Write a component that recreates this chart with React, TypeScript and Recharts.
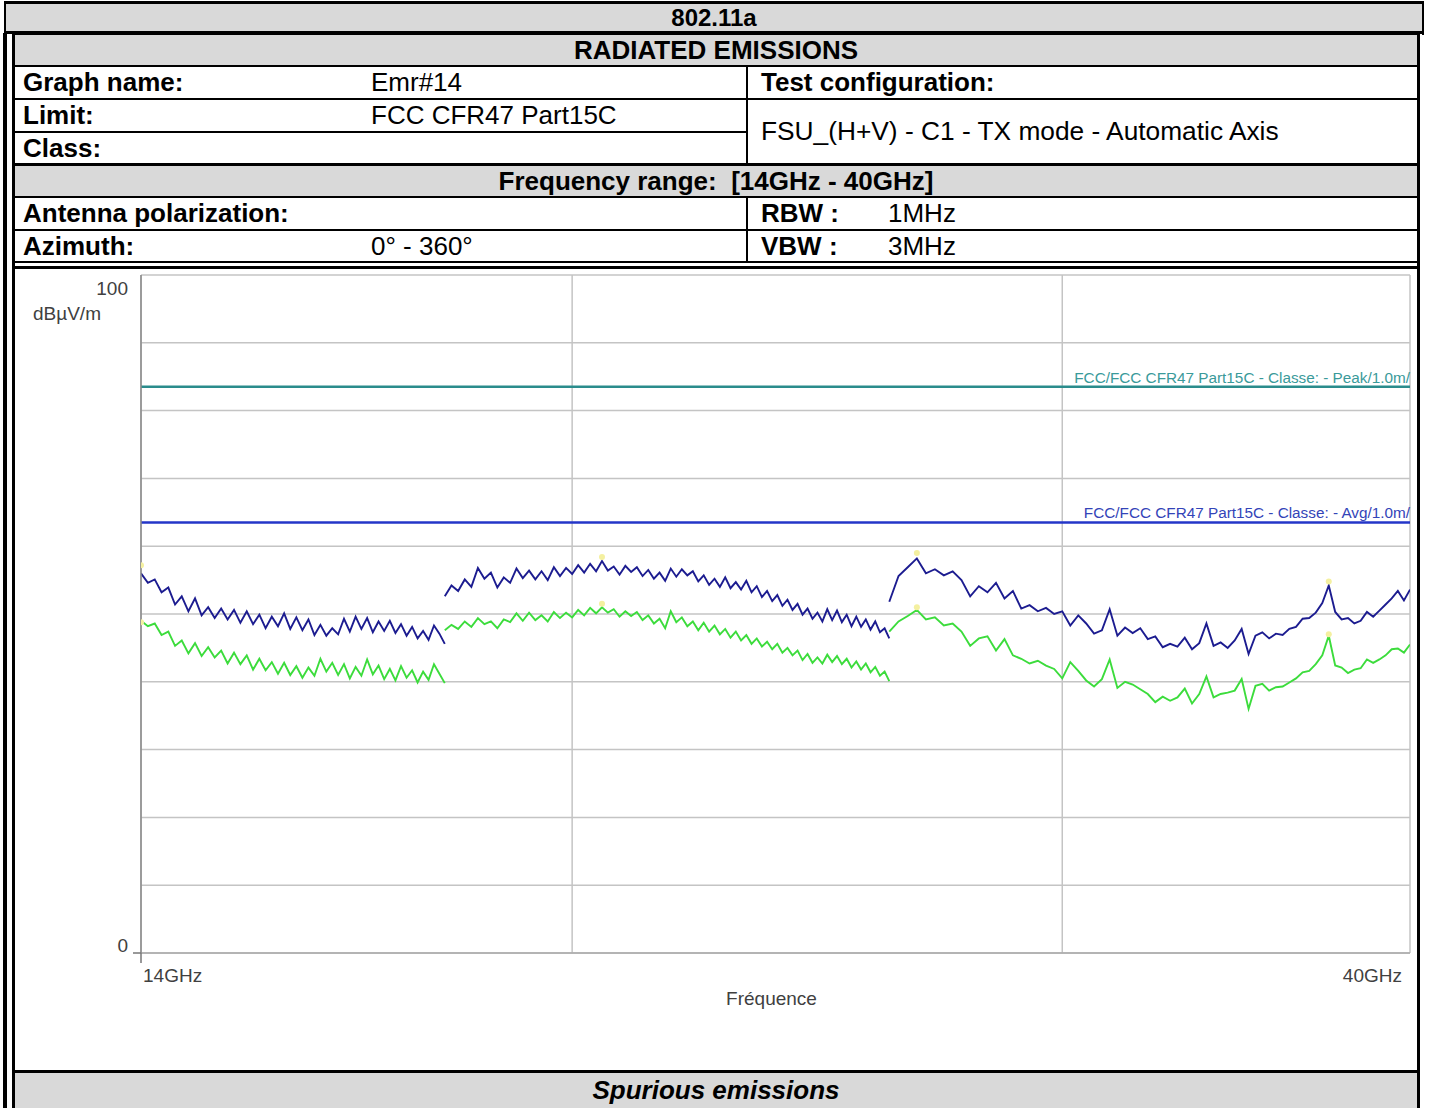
import React from 'react';
import { LineChart, Line, XAxis, YAxis, CartesianGrid, ReferenceLine, Label } from 'recharts';

const FONT = '"Liberation Sans", Arial, Helvetica, sans-serif';

// analyzer sweep per sub-band (GHz)
const band1Sweep = { start: 14, step: 0.08 };
const band2Sweep = { start: 18, step: 0.1 };
const band3Sweep = { start: 26, step: 0.2 };

// peak trace (dBµV/m)
const peak1 = [
  56.0, 54.6, 55.1, 53.2, 53.9, 51.4, 52.6, 50.4, 52.3, 49.8, 51.0, 49.4, 50.8, 49.2, 50.6, 48.7, 50.4,
  48.5, 49.9, 47.9, 49.6, 48.2, 50.1, 47.8, 49.5, 47.6, 49.2, 46.9, 48.4, 46.8, 47.9, 47.0, 49.3, 47.4,
  49.6, 47.8, 49.4, 47.3, 48.9, 47.5, 49.0, 47.2, 48.5, 46.8, 48.1, 46.4, 47.5, 46.2, 48.3, 47.1, 45.6,
];
const peak2 = [
  52.6, 54.2, 53.4, 55.1, 54.0, 56.8, 55.2, 56.1, 53.9, 55.4, 54.6, 56.7, 55.3, 56.4, 55.1, 56.3, 55.0,
  56.9, 55.6, 56.8, 55.9, 57.2, 56.1, 57.4, 56.3, 57.8, 56.4, 57.0, 55.8, 57.1, 56.2, 56.9, 55.6, 56.5,
  55.2, 56.1, 54.9, 56.7, 55.5, 56.6, 55.7, 56.3, 54.8, 55.7, 54.3, 55.2, 54.0, 55.4, 53.8, 54.7, 53.6,
  54.9, 53.2, 54.1, 52.5, 53.4, 51.9, 52.8, 51.2, 52.1, 50.6, 51.5, 49.9, 50.8, 49.3, 50.2, 48.9, 50.7,
  49.1, 50.5, 48.8, 49.9, 48.2, 49.6, 48.1, 49.2, 47.7, 48.9, 47.3, 47.9, 46.4,
];
const peak3 = [
  51.8, 55.6, 56.9, 58.2, 56.0, 56.6, 55.7, 56.3, 55.0, 52.6, 54.1, 53.2, 54.6, 52.3, 53.4, 50.8, 51.3,
  50.4, 50.9, 50.0, 50.4, 48.3, 49.8, 48.6, 47.1, 47.6, 50.7, 46.8, 48.0, 47.2, 47.9, 46.3, 46.7, 45.1,
  45.6, 45.2, 46.5, 44.8, 45.7, 48.6, 45.3, 45.8, 45.0, 46.1, 47.8, 44.1, 46.8, 47.3, 46.4, 47.1, 46.9,
  47.8, 48.1, 49.3, 49.4, 50.2, 51.6, 54.2, 50.3, 49.2, 49.4, 48.6, 49.0, 50.3, 49.6, 50.5, 51.4, 52.3,
  53.4, 52.0, 53.6,
];

// average trace (dBµV/m)
const avg1 = [
  49.0, 48.2, 48.6, 46.9, 47.4, 45.3, 46.1, 44.2, 45.7, 43.8, 45.1, 43.6, 44.6, 42.7, 44.3, 42.6, 43.9,
  41.8, 43.4, 41.7, 42.9, 41.2, 42.8, 41.0, 42.3, 40.6, 42.1, 40.9, 43.4, 41.5, 42.8, 41.0, 42.6, 40.5,
  42.2, 40.9, 43.3, 41.1, 42.4, 40.4, 41.9, 40.2, 42.3, 40.6, 41.7, 39.9, 41.5, 40.3, 42.6, 41.2, 39.8,
];
const avg2 = [
  47.6, 48.4, 47.8, 48.9, 48.1, 49.4, 48.5, 48.9, 47.9, 49.2, 48.8, 50.1, 49.0, 50.2, 49.1, 49.8, 48.9,
  50.3, 49.4, 50.2, 49.5, 50.6, 49.8, 50.9, 50.1, 51.0, 50.2, 50.7, 49.6, 50.4, 49.7, 50.3, 49.1, 49.8,
  48.6, 49.3, 47.9, 50.4, 48.8, 49.5, 48.2, 48.9, 47.6, 48.7, 47.4, 48.3, 47.0, 47.8, 46.5, 47.4, 46.1,
  46.9, 45.6, 46.4, 45.2, 45.9, 44.8, 45.6, 44.3, 45.0, 43.9, 44.6, 43.2, 44.1, 42.8, 43.6, 42.7, 44.0,
  42.9, 43.8, 42.6, 43.4, 42.1, 43.0, 41.8, 42.7, 41.4, 42.2, 40.9, 41.5, 40.1,
];
const avg3 = [
  47.4, 48.9, 49.7, 50.6, 49.2, 49.5, 48.3, 48.6, 47.4, 45.3, 46.4, 46.7, 44.6, 46.3, 43.9, 43.4, 42.7,
  43.1, 42.4, 41.9, 40.5, 42.9, 41.6, 40.2, 39.3, 40.4, 43.3, 39.1, 40.0, 39.6, 38.9, 38.2, 37.0, 37.8,
  37.2, 37.7, 39.0, 36.8, 38.2, 40.8, 37.7, 38.2, 38.4, 38.7, 40.4, 36.0, 39.4, 39.7, 38.7, 39.2, 39.3,
  39.9, 40.5, 41.4, 41.6, 42.6, 43.9, 46.8, 42.4, 42.1, 41.3, 41.8, 42.0, 43.3, 42.8, 43.3, 43.9, 44.8,
  44.9, 44.3, 45.5,
];

// final measurement markers
const markerFreqs = [14.0, 20.5, 26.6, 37.4];
const peakMarkers = [57.2, 58.4, 59.0, 54.8];
const avgMarkers = [48.8, 51.5, 51.0, 47.0];

const limitPeak = 83.5;
const limitAvg = 63.5;
const yTicks = [0, 10, 20, 30, 40, 50, 60, 70, 80, 90, 100];
const xTicks = [14, 20, 30, 40];

const BLUE = '#1c1c90';
const GREEN = '#3cdc3c';

const toPoints = (sweep: { start: number; step: number }, values: number[]) =>
  values.map((v, i) => ({ f: +(sweep.start + i * sweep.step).toFixed(2), v }));

const markerPoints = (values: number[]) => values.map((v, i) => ({ f: markerFreqs[i], v }));

const bands = [
  { key: 'p1', data: toPoints(band1Sweep, peak1), color: BLUE },
  { key: 'p2', data: toPoints(band2Sweep, peak2), color: BLUE },
  { key: 'p3', data: toPoints(band3Sweep, peak3), color: BLUE },
  { key: 'a1', data: toPoints(band1Sweep, avg1), color: GREEN },
  { key: 'a2', data: toPoints(band2Sweep, avg2), color: GREEN },
  { key: 'a3', data: toPoints(band3Sweep, avg3), color: GREEN },
];

const YTick = (props: any) => {
  const { x, y, payload } = props;
  if (payload.value === 100) {
    return (
      <g>
        <text x={x - 13} y={y + 16} textAnchor="end" fontSize={19} fill="#404040">100</text>
        <text x={x - 108} y={y + 41} textAnchor="start" fontSize={19} fill="#404040">dBµV/m</text>
      </g>
    );
  }
  if (payload.value === 0) {
    return (
      <g>
        <line x1={x - 8} x2={x} y1={y} y2={y} stroke="#777" strokeWidth={1.5} />
        <text x={x - 13} y={y - 1} textAnchor="end" fontSize={19} fill="#404040">0</text>
      </g>
    );
  }
  return null;
};

const XTick = (props: any) => {
  const { x, y, payload } = props;
  if (payload.value === 14) {
    return (
      <g>
        <line x1={x} x2={x} y1={y} y2={y + 10} stroke="#777" strokeWidth={1.5} />
        <text x={x + 2} y={y + 29} textAnchor="start" fontSize={19} fill="#404040">14GHz</text>
      </g>
    );
  }
  if (payload.value === 40) {
    return <text x={x - 6} y={y + 29} textAnchor="end" fontSize={19} fill="#404040">40GHz</text>;
  }
  return null;
};

const limitLabel = (text: string, color: string) => (props: any) => {
  const vb = props.viewBox;
  return (
    <text x={vb.x + vb.width} y={vb.y - 4} textAnchor="end" fontSize={15.3} fill={color}>
      {text}
    </text>
  );
};

const Chart = () => (
  <LineChart
    width={1400}
    height={800}
    margin={{ top: 5, right: 6, bottom: 57, left: 65 }}
    style={{ fontFamily: FONT }}
  >
    <CartesianGrid stroke="#c4c4c4" strokeWidth={1.5} />
    <XAxis
      dataKey="f"
      type="number"
      scale="log"
      domain={[14, 40]}
      ticks={xTicks}
      allowDataOverflow
      height={60}
      tickSize={0}
      tickMargin={0}
      tickLine={false}
      axisLine={{ stroke: '#aaa', strokeWidth: 1.5 }}
      tick={<XTick />}
    >
      <Label value="Fréquence" position="insideBottom" offset={8} dx={-4} fontSize={19} fill="#404040" />
    </XAxis>
    <YAxis
      type="number"
      domain={[0, 100]}
      ticks={yTicks}
      width={60}
      tickSize={0}
      tickMargin={0}
      tickLine={false}
      axisLine={{ stroke: '#888', strokeWidth: 1.5 }}
      tick={<YTick />}
    />
    <ReferenceLine
      y={limitPeak}
      stroke="#2a8c8c"
      strokeWidth={2.5}
      label={limitLabel('FCC/FCC CFR47 Part15C - Classe: - Peak/1.0m/', '#3a9a9a')}
    />
    <ReferenceLine
      y={limitAvg}
      stroke="#2436c8"
      strokeWidth={2.5}
      label={limitLabel('FCC/FCC CFR47 Part15C - Classe: - Avg/1.0m/', '#3344b8')}
    />
    {bands.map((b) => (
      <Line
        key={b.key}
        data={b.data}
        dataKey="v"
        type="linear"
        stroke={b.color}
        strokeWidth={1.9}
        dot={false}
        isAnimationActive={false}
      />
    ))}
    <Line
      data={markerPoints(peakMarkers)}
      dataKey="v"
      stroke="none"
      dot={{ r: 3, fill: '#f4f0a0', stroke: 'none' }}
      isAnimationActive={false}
    />
    <Line
      data={markerPoints(avgMarkers)}
      dataKey="v"
      stroke="none"
      dot={{ r: 3, fill: '#f4f0a0', stroke: 'none' }}
      isAnimationActive={false}
    />
  </LineChart>
);

const H = ({ x, y, w, t = 2 }: any) => (
  <div style={{ position: 'absolute', left: x, top: y, width: w, height: t, background: '#000' }} />
);
const V = ({ x, y, h, t = 2 }: any) => (
  <div style={{ position: 'absolute', left: x, top: y, width: t, height: h, background: '#000' }} />
);
const Fill = ({ x, y, w, h }: any) => (
  <div style={{ position: 'absolute', left: x, top: y, width: w, height: h, background: '#d9d9d9' }} />
);
const T = ({ x, y, h, w, bold, italic, center, size = 26, children }: any) => (
  <div
    style={{
      position: 'absolute',
      left: x,
      top: y,
      width: w,
      height: h,
      lineHeight: `${h}px`,
      fontSize: size,
      fontWeight: bold ? 700 : 400,
      fontStyle: italic ? 'italic' : 'normal',
      textAlign: center ? 'center' : 'left',
      whiteSpace: 'pre',
      color: '#000',
    }}
  >
    {children}
  </div>
);

export default function App() {
  return (
    <div
      style={{
        position: 'absolute',
        left: 0,
        top: 0,
        width: 1432,
        height: 1108,
        overflow: 'hidden',
        background: '#fff',
        fontFamily: FONT,
      }}
    >
      {/* grey header bands */}
      <Fill x={6} y={4} w={1416} h={27} />
      <Fill x={15} y={35} w={1402} h={30} />
      <Fill x={15} y={166} w={1402} h={30} />
      <Fill x={15} y={1073} w={1402} h={35} />

      {/* outer frame */}
      <H x={4} y={1} w={1420} t={3} />
      <V x={4} y={1} h={32} />
      <V x={1422} y={1} h={34} />
      <H x={4} y={31} w={1420} t={3} />
      <V x={3} y={33} h={1075} t={4} />

      {/* inner table */}
      <V x={12} y={33} h={1075} t={3} />
      <V x={1417} y={33} h={1075} t={3} />
      <H x={12} y={33} w={1408} />
      <H x={12} y={65} w={1408} />
      <H x={12} y={98} w={1408} />
      <H x={12} y={131} w={736} />
      <H x={12} y={163} w={1408} t={3} />
      <H x={12} y={196} w={1408} />
      <H x={12} y={229} w={1408} />
      <H x={12} y={261} w={1408} />
      <V x={746} y={66} h={98} />
      <V x={746} y={197} h={65} />
      <H x={12} y={266} w={1408} t={3} />
      <H x={12} y={1070} w={1408} t={3} />

      {/* texts */}
      <T x={6} y={4} w={1416} h={27} size={24} bold center>802.11a</T>
      <T x={15} y={35} w={1402} h={30} bold center>RADIATED EMISSIONS</T>
      <T x={23} y={67} h={31} bold>Graph name:</T>
      <T x={371} y={67} h={31}>Emr#14</T>
      <T x={761} y={67} h={31} bold>Test configuration:</T>
      <T x={23} y={100} h={31} bold>Limit:</T>
      <T x={371} y={100} h={31}>FCC CFR47 Part15C</T>
      <T x={761} y={100} h={63} size={26.3}>FSU_(H+V) - C1 - TX mode - Automatic Axis</T>
      <T x={23} y={133} h={30} bold>Class:</T>
      <T x={15} y={166} w={1402} h={30} bold center>{'Frequency range:  [14GHz - 40GHz]'}</T>
      <T x={23} y={198} h={31} bold>Antenna polarization:</T>
      <T x={761} y={198} h={31} bold>RBW :</T>
      <T x={888} y={198} h={31}>1MHz</T>
      <T x={23} y={231} h={30} bold>Azimuth:</T>
      <T x={371} y={231} h={30}>0° - 360°</T>
      <T x={761} y={231} h={30} bold>VBW :</T>
      <T x={888} y={231} h={30}>3MHz</T>
      <T x={15} y={1073} w={1402} h={35} bold italic center>Spurious emissions</T>

      <div style={{ position: 'absolute', left: 16, top: 270 }}>
        <Chart />
      </div>
    </div>
  );
}
